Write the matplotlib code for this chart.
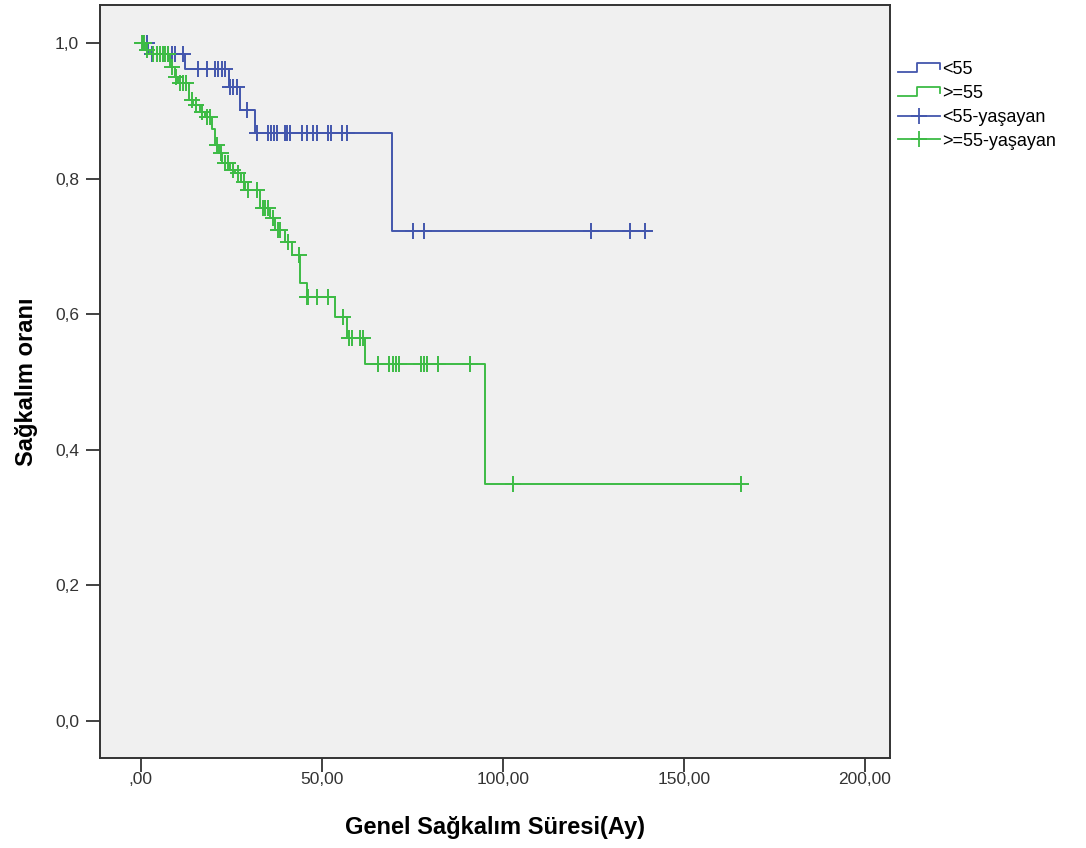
import matplotlib
matplotlib.use("Agg")
import matplotlib.pyplot as plt
from matplotlib.legend_handler import HandlerBase
from matplotlib.lines import Line2D

# <55 group: step times (months) and survival after each step
blue_t = [0, 2.0, 12.2, 24.3, 27.3, 31.5, 69.3, 141.0]
blue_s = [1.0, 0.984, 0.962, 0.935, 0.901, 0.867, 0.723, 0.723]
blue_cens_t = [0.5, 1.7, 3.0, 7.5, 8.6, 9.4, 11.6,
               15.7, 18.2, 20.4, 21.3, 22.4, 23.2,
               24.6, 25.4, 26.5, 29.3,
               32.0, 35.1, 35.9, 36.7, 37.6, 39.8, 40.3, 41.2, 44.5, 45.9,
               47.5, 48.6, 51.7, 52.5, 55.5, 56.9,
               75.1, 78.2, 124.3, 135.1, 139.2]

# >=55 group
green_t = [0, 1.1, 2.5, 8.0, 9.4, 10.2, 13.3, 14.4, 16.3, 17.7, 19.6, 20.4,
           21.5, 22.4, 24.6, 26.0, 27.6, 28.7, 32.9, 35.6, 37.0, 39.8, 41.7,
           43.9, 45.9, 53.6, 56.9, 61.9, 95.0, 166.0]
green_s = [1.0, 0.990, 0.984, 0.965, 0.950, 0.941, 0.916, 0.909, 0.898, 0.891,
           0.873, 0.850, 0.838, 0.823, 0.813, 0.808, 0.795, 0.783, 0.757,
           0.742, 0.724, 0.706, 0.687, 0.646, 0.625, 0.596, 0.565, 0.527,
           0.350, 0.350]
green_cens_t = [0.3, 0.8, 1.7, 3.3, 4.4, 5.2, 6.1, 6.6, 7.5, 8.6, 9.7, 10.8,
                11.6, 12.4, 14.0, 15.2, 16.9, 18.2, 19.1, 21.0, 22.1, 23.2,
                24.0, 25.4, 26.8, 28.5, 29.6, 32.0, 33.7, 34.3, 35.1, 36.5,
                37.8, 38.4, 40.6, 43.6, 45.9, 46.1, 48.6, 51.7, 55.8, 57.5,
                58.3, 60.5, 61.3, 65.5, 68.5, 69.6, 70.4, 71.3, 77.3, 78.2,
                79.0, 82.0, 90.9, 102.8, 165.7]

legend_labels = ['<55', '>=55', '<55-yaşayan', '>=55-yaşayan']
blue = '#4356ad'
green = '#3dbb45'
font = ['Liberation Sans Narrow', 'Liberation Sans', 'DejaVu Sans']


def surv_at(ts, ss, t):
    v = ss[0]
    for ti, si in zip(ts, ss):
        if ti <= t:
            v = si
    return v


class StepHandler(HandlerBase):
    def create_artists(self, legend, orig, xd, yd, w, h, fontsize, trans):
        x = [xd, xd + 0.45 * w, xd + 0.45 * w, xd + w, xd + w]
        y = [yd + 0.15 * h, yd + 0.15 * h, yd + 0.85 * h, yd + 0.85 * h, yd + 0.4 * h]
        ln = Line2D(x, y, color=orig.get_color(), lw=1.3, transform=trans)
        return [ln]


fig = plt.figure(figsize=(10.86, 8.48), dpi=100)
ax = fig.add_axes([0.092, 0.106, 0.7275, 0.888])
ax.set_facecolor('#f0f0f0')

ax.step(blue_t, blue_s, where='post', color=blue, lw=1.4)
ax.step(green_t, green_s, where='post', color=green, lw=1.4)
ax.plot(blue_cens_t, [surv_at(blue_t, blue_s, t) for t in blue_cens_t],
        ls='none', marker='+', ms=12, mew=1.4, color=blue)
ax.plot(green_cens_t, [surv_at(green_t, green_s, t) for t in green_cens_t],
        ls='none', marker='+', ms=12, mew=1.4, color=green)

ax.set_xlim(-11.3, 206.9)
ax.set_ylim(-0.055, 1.056)
ax.set_xticks([0, 50, 100, 150, 200])
ax.set_xticklabels([',00', '50,00', '100,00', '150,00', '200,00'])
ax.set_yticks([0, 0.2, 0.4, 0.6, 0.8, 1.0])
ax.set_yticklabels(['0,0', '0,2', '0,4', '0,6', '0,8', '1,0'])
ax.tick_params(length=10, width=1.3, color='#333333', labelsize=12.5,
               labelcolor='#333333')
ax.tick_params(axis='x', pad=0)
ax.tick_params(axis='y', pad=5)
for lab in ax.get_xticklabels() + ax.get_yticklabels():
    lab.set_family(font)
for sp in ax.spines.values():
    sp.set_color('#333333')
    sp.set_linewidth(1.4)

ax.set_xlabel('Genel Sağkalım Süresi(Ay)', fontsize=17, fontweight='bold',
              family=font, labelpad=21)
ax.set_ylabel('Sağkalım oranı', fontsize=17, fontweight='bold',
              family=font, labelpad=12)

h_blue = Line2D([], [], color=blue)
h_green = Line2D([], [], color=green)
h_bc = Line2D([], [], color=blue, marker='+', ms=12, mew=1.3, lw=1.3)
h_gc = Line2D([], [], color=green, marker='+', ms=12, mew=1.3, lw=1.3)
leg = fig.legend([h_blue, h_green, h_bc, h_gc], legend_labels,
                 loc='upper left', bbox_to_anchor=(0.812, 0.947),
                 frameon=False, handlelength=2.3,
                 handletextpad=0.15, labelspacing=0.38,
                 handler_map={h_blue: StepHandler(), h_green: StepHandler()},
                 prop={'family': font, 'size': 13})

fig.savefig('out.png', dpi=100, facecolor='white')
